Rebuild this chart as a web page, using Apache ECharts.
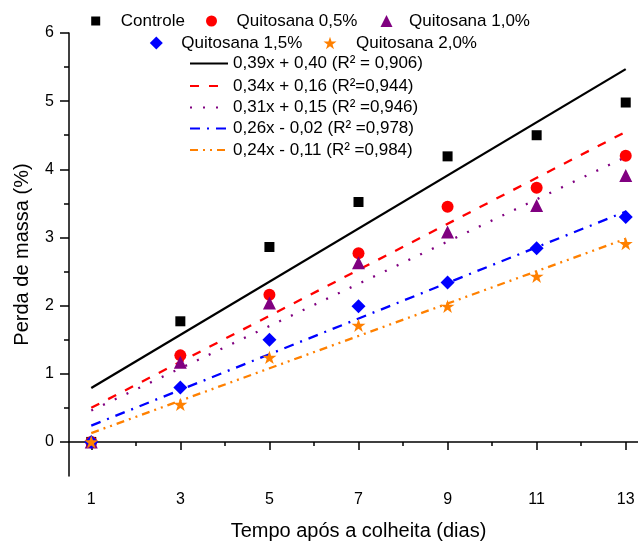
<!DOCTYPE html>
<html><head><meta charset="utf-8">
<script src="https://cdn.jsdelivr.net/npm/echarts@6/dist/echarts.min.js"></script>
<style>html,body{margin:0;padding:0;background:#fff}#c{width:638px;height:543px}</style>
</head><body><div id="c"></div>
<script>
var days = [1, 3, 5, 7, 9, 11, 13];
var controle = [0, 1.77, 2.86, 3.52, 4.19, 4.50, 4.98];
var quit05 = [0, 1.27, 2.16, 2.77, 3.45, 3.73, 4.20];
var quit10 = [0, 1.17, 2.04, 2.63, 3.08, 3.47, 3.91];
var quit15 = [0, 0.80, 1.50, 1.99, 2.34, 2.84, 3.30];
var quit20 = [0, 0.55, 1.24, 1.71, 1.99, 2.43, 2.91];
var trendX = [1, 13];
var trendControle = [0.79, 5.47];
var trend05 = [0.50, 4.55];
var trend10 = [0.46, 4.18];
var trend15 = [0.24, 3.38];
var trend20 = [0.13, 2.98];
var scatterNames = ['Controle', 'Quitosana 0,5%', 'Quitosana 1,0%', 'Quitosana 1,5%', 'Quitosana 2,0%'];
var trendNames = ['0,39x + 0,40 (R\u00B2 = 0,906)', '0,34x + 0,16 (R\u00B2=0,944)', '0,31x + 0,15 (R\u00B2 =0,946)', '0,26x - 0,02 (R\u00B2 =0,978)', '0,24x - 0,11 (R\u00B2 =0,984)'];
var xTickLabels = [1, 3, 5, 7, 9, 11, 13];
var xMinorTicks = [2, 4, 6, 8, 10, 12];
var yTickLabels = [0, 1, 2, 3, 4, 5, 6];
var yMinorTicks = [0.5, 1.5, 2.5, 3.5, 4.5, 5.5];

function pairs(xs, ys) { return xs.map(function (x, i) { return [x, ys[i]]; }); }

var FONT = "'Liberation Sans', Arial, sans-serif";
var colors = ['#000000', '#ff0000', '#800080', '#0000ff', '#ff8000'];
var symbols = ['rect', 'circle', 'triangle', 'diamond', 'path://M50,0 L61.8,35.3 L99,35.3 L69,57.3 L80.3,92.7 L50,70.8 L19.7,92.7 L31,57.3 L1,35.3 L38.2,35.3 Z'];
var sizes = [10, 12, 13, 14, 14];
var scatterData = [controle, quit05, quit10, quit15, quit20];
var trendData = [trendControle, trend05, trend10, trend15, trend20];
var dashes = ['solid', [9, 10], [2, 11], [10, 7, 2, 7], [8, 5, 2, 5, 2, 5]];

var series = [];
trendData.forEach(function (d, i) {
  series.push({
    type: 'line', name: trendNames[i], data: pairs(trendX, d), symbol: 'none', showSymbol: false, z: 2,
    lineStyle: { color: colors[i], width: 2.3, type: dashes[i] }, itemStyle: { color: colors[i] },
    silent: true, animation: false
  });
});
scatterData.forEach(function (d, i) {
  series.push({
    type: 'scatter', name: scatterNames[i], data: pairs(days, d), symbol: symbols[i], symbolSize: sizes[i], z: 5,
    symbolKeepAspect: true,
    itemStyle: { color: colors[i], opacity: 1 }, silent: true, animation: false
  });
});

var legends = [];
// scatter legends: [iconCenterX, centerY, textStartX]
var scatterLegPos = [[95.7, 21, 120.7], [211.5, 21, 236.5], [386.5, 21, 409], [156.3, 43, 181.3], [330, 43, 356]];
scatterLegPos.forEach(function (p, i) {
  var s = sizes[i] - 1;
  var iconLeft = p[0] - s / 2;
  legends.push({
    data: [scatterNames[i]], left: iconLeft, top: p[1] - 9, itemWidth: s, itemHeight: s,
    itemGap: 0, padding: 0, selectedMode: false,
    textStyle: { fontSize: 17, fontFamily: FONT, color: '#000', lineHeight: 18, padding: [0, 0, 0, p[2] - (iconLeft + s + 5)] }
  });
});
var trendLegY = [63.5, 86, 107.5, 128.5, 150];
trendLegY.forEach(function (y, i) {
  legends.push({
    data: [trendNames[i]], left: 189, top: y - 9, itemWidth: 38, itemHeight: 12,
    itemGap: 0, padding: 0, selectedMode: false, itemStyle: { opacity: 0 },
    textStyle: { fontSize: 17, fontFamily: FONT, color: '#000', lineHeight: 18 }
  });
});

var axisLineStyle = { color: '#000', width: 1.5 };
var chart = echarts.init(document.getElementById('c'), null, { renderer: 'canvas' });
chart.setOption({
  animation: false,
  backgroundColor: '#fff',
  textStyle: { fontFamily: FONT },
  legend: legends,
  grid: { left: 69, right: -10, top: 33, bottom: 67, containLabel: false, outerBoundsMode: 'none' },
  xAxis: [{
    type: 'value', min: 0.5, max: 13.5, name: 'Tempo ap\u00F3s a colheita (dias)', nameLocation: 'middle', nameGap: 45,
    nameTextStyle: { fontSize: 20, fontFamily: FONT, color: '#000' },
    axisLine: { show: true, lineStyle: axisLineStyle },
    axisTick: { show: true, inside: false, length: 8, customValues: xTickLabels, lineStyle: axisLineStyle },
    axisLabel: { customValues: xTickLabels, fontSize: 16, fontFamily: FONT, color: '#000', margin: 16 },
    splitLine: { show: false }
  }, {
    type: 'value', min: 0.5, max: 13.5, position: 'bottom',
    axisLine: { show: false },
    axisTick: { show: true, inside: false, length: 4, customValues: xMinorTicks, lineStyle: axisLineStyle },
    axisLabel: { show: false }, splitLine: { show: false }
  }],
  yAxis: [{
    type: 'value', min: -0.5, max: 6, name: 'Perda de massa (%)', nameLocation: 'middle', nameGap: 37,
    nameTextStyle: { fontSize: 20, fontFamily: FONT, color: '#000' },
    axisLine: { show: true, lineStyle: axisLineStyle },
    axisTick: { show: true, inside: false, length: 9, customValues: yTickLabels, lineStyle: axisLineStyle },
    axisLabel: { customValues: yTickLabels, fontSize: 16, fontFamily: FONT, color: '#000', margin: 15 },
    splitLine: { show: false }
  }, {
    type: 'value', min: -0.5, max: 6, position: 'left',
    axisLine: { show: false },
    axisTick: { show: true, inside: false, length: 5, customValues: yMinorTicks, lineStyle: axisLineStyle },
    axisLabel: { show: false }, splitLine: { show: false }
  }],
  series: series
});
</script></body></html>
